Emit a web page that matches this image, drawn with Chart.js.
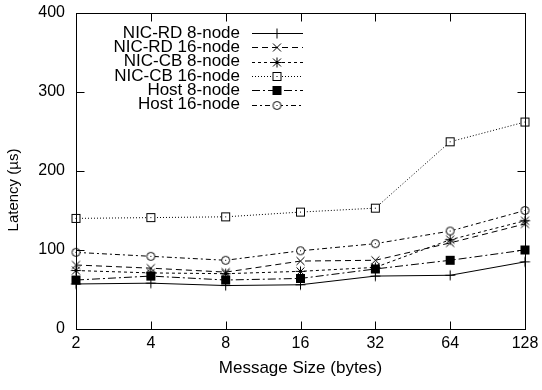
<!doctype html>
<meta charset="utf-8">
<title>Latency vs message size</title>
<style>
    html, body { margin: 0; padding: 0; background: #fff; }
    #wrap { width: 542px; height: 390px; }
</style>
<body>
<div id="wrap"><canvas id="chart" width="542" height="390"></canvas></div>
<script src="https://cdn.jsdelivr.net/npm/chart.js@4/dist/chart.umd.min.js"></script>
<script>
    // message sizes (bytes), equally spaced like a log2 axis
    const sizes = ["2", "4", "8", "16", "32", "64", "128"];
    const yTicks = [0, 100, 200, 300, 400];

    const nicRd8 = [57, 58, 55, 56, 67, 68, 85];
    const nicRd16 = [81, 77, 72, 86, 87, 109, 133];
    const nicCb8 = [74, 71, 70, 73, 78, 113, 137];
    const nicCb16 = [140, 141, 142, 148, 153, 237, 262];
    const host8 = [62, 67, 62, 64, 76, 87, 100];
    const host16 = [97, 92, 87, 99, 108, 124, 150];

    const FONT = "'Liberation Sans', Arial, Helvetica, sans-serif";

    // gnuplot-ish point markers drawn into small canvases
    const marker = (kind) => {
        const c = document.createElement("canvas");
        c.width = 15; c.height = 15;
        const g = c.getContext("2d");
        const m = 7.5;
        g.strokeStyle = "#000";
        g.fillStyle = "#000";
        g.lineWidth = 1;
        g.beginPath();
        if (kind === "plus" || kind === "star") {
            g.moveTo(m - 5, m); g.lineTo(m + 5, m);
            g.moveTo(m, m - 5); g.lineTo(m, m + 5);
        }
        if (kind === "cross" || kind === "star") {
            g.moveTo(m - 4, m - 4); g.lineTo(m + 4, m + 4);
            g.moveTo(m - 4, m + 4); g.lineTo(m + 4, m - 4);
        }
        g.stroke();
        if (kind === "box") {
            g.fillStyle = "#fff";
            g.fillRect(m - 4, m - 4, 8, 8);
            g.strokeRect(m - 4, m - 4, 8, 8);
            g.fillStyle = "#000";
            g.fillRect(7, 7, 1, 1);
        }
        if (kind === "fbox") {
            g.fillRect(3, 3, 9, 9);
        }
        if (kind === "circle") {
            g.fillStyle = "#fff";
            g.beginPath();
            g.arc(m, m, 4, 0, Math.PI * 2);
            g.fill();
            g.stroke();
            g.fillStyle = "#000";
            g.fillRect(7, 7, 1, 1);
        }
        return c;
    };

    const series = [
        { label: "NIC-RD 8-node", data: nicRd8, dash: [], mark: marker("plus") },
        { label: "NIC-RD 16-node", data: nicRd16, dash: [6, 4], mark: marker("cross") },
        { label: "NIC-CB 8-node", data: nicCb8, dash: [3, 3], mark: marker("star") },
        { label: "NIC-CB 16-node", data: nicCb16, dash: [1, 2], mark: marker("box") },
        { label: "Host 8-node", data: host8, dash: [8, 3, 2, 3], mark: marker("fbox") },
        { label: "Host 16-node", data: host16, dash: [5, 3, 2, 3], mark: marker("circle") },
    ];

    // frame, inward ticks, legend and y title, gnuplot style
    const gnuplotFrame = {
        id: "gnuplotFrame",
        afterDraw(chart) {
            const ctx = chart.ctx;
            const a = chart.chartArea;
            const xs = chart.scales.x, ys = chart.scales.y;
            const L = Math.round(a.left) + 0.5, R = Math.round(a.right) + 0.5;
            const T = Math.round(a.top) + 0.5, B = Math.round(a.bottom) + 0.5;
            ctx.save();
            ctx.strokeStyle = "#000";
            ctx.lineWidth = 1;
            ctx.setLineDash([]);
            ctx.strokeRect(L, T, R - L, B - T);
            ctx.beginPath();
            sizes.forEach((s, i) => {
                const x = Math.round(xs.getPixelForValue(i)) + 0.5;
                ctx.moveTo(x, B); ctx.lineTo(x, B - 8);
                ctx.moveTo(x, T); ctx.lineTo(x, T + 8);
            });
            yTicks.forEach(v => {
                const y = Math.round(ys.getPixelForValue(v)) + 0.5;
                ctx.moveTo(L, y); ctx.lineTo(L + 8, y);
                ctx.moveTo(R, y); ctx.lineTo(R - 8, y);
            });
            ctx.stroke();

            // legend
            ctx.font = "17px " + FONT;
            ctx.fillStyle = "#000";
            ctx.textAlign = "right";
            ctx.textBaseline = "middle";
            chart.data.datasets.forEach((ds, i) => {
                const y = 33 + i * 14.3;
                ctx.fillText(ds.label, 240, y);
                const ly = Math.round(y) + 0.5;
                ctx.setLineDash(ds.borderDash);
                ctx.beginPath();
                ctx.moveTo(252, ly); ctx.lineTo(303, ly);
                ctx.stroke();
                ctx.setLineDash([]);
                const img = ds.pointStyle;
                ctx.drawImage(img, 277 - img.width / 2, ly - img.height / 2);
            });

            // y axis title
            ctx.translate(14, 190);
            ctx.rotate(-Math.PI / 2);
            ctx.textAlign = "center";
            ctx.font = "15px " + FONT;
            ctx.fillText("Latency (\u00b5s)", 0, 0);
            ctx.restore();
        }
    };

    Chart.defaults.font.family = FONT;
    Chart.defaults.font.size = 16;
    Chart.defaults.color = "#000";

    new Chart(document.getElementById("chart"), {
        type: "line",
        data: {
            labels: sizes,
            datasets: series.map(s => ({
                label: s.label,
                data: s.data,
                borderColor: "#000",
                borderWidth: 1,
                borderDash: s.dash,
                pointStyle: s.mark,
                pointRadius: 5,
                tension: 0,
                clip: false,
            })),
        },
        options: {
            responsive: false,
            animation: false,
            devicePixelRatio: 1,
            layout: { padding: { top: 13, right: 17, left: 0, bottom: 0 } },
            plugins: {
                legend: { display: false },
                tooltip: { enabled: false },
            },
            scales: {
                x: {
                    type: "category",
                    offset: false,
                    grid: { display: false, drawTicks: false },
                    border: { display: false },
                    ticks: { padding: 5, maxRotation: 0, autoSkip: false },
                    title: { display: true, text: "Message Size (bytes)", font: { size: 17 }, padding: { top: 3, bottom: 11 } },
                    afterFit(scale) { scale.height = 61; scale.paddingLeft = 0; scale.paddingRight = 0; },
                },
                y: {
                    min: 0,
                    max: 400,
                    grid: { display: false, drawTicks: false },
                    border: { display: false },
                    ticks: { stepSize: 100, padding: 11 },
                    afterFit(scale) { scale.width = 76; scale.paddingTop = 0; scale.paddingBottom = 0; },
                },
            },
        },
        plugins: [gnuplotFrame],
    });
</script>
</body>
